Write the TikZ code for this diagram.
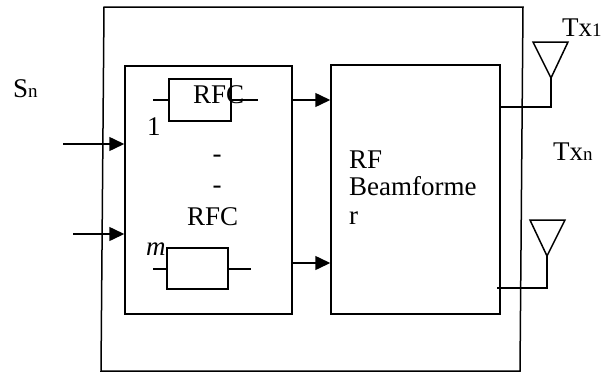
\documentclass[tikz,border=0pt]{standalone}
\usepackage{fontspec}
\setmainfont{Liberation Serif}
\usetikzlibrary{arrows.meta}
\begin{document}
\begin{tikzpicture}[x=1pt,y=-1pt,
  ln/.style={line width=1.5pt},
  arr/.style={ln,-{Triangle[length=15pt,width=14pt]}},
  blk/.style={draw,ln,rectangle,inner sep=0pt},
  txt/.style={inner sep=0pt,anchor=base west,font=\fontsize{27}{28}\selectfont},
  sub/.style={font=\fontsize{19}{20}\selectfont}
]
\useasboundingbox (0,0) rectangle (603,375);
% outer frame
\draw[ln] (104,7) -- (523,7) -- (520,371) -- (101,371) -- cycle;
% main blocks
\node[blk,minimum width=167pt,minimum height=248pt] (bank) at (208.5,190) {};
\node[blk,minimum width=169pt,minimum height=249pt] (bf) at (415.5,189.5) {};
% RFC boxes
\node[blk,minimum width=62pt,minimum height=42pt] (rfc1) at (200,100) {};
\node[blk,minimum width=61pt,minimum height=41pt] (rfcm) at (197.5,268.5) {};
\coordinate (l1) at (153,100); \coordinate (r1) at (258,100);
\coordinate (lm) at (153,269); \coordinate (rm) at (251,269);
\draw[ln] (l1) -- (l1 -| rfc1.west);
\draw[ln] (r1 -| rfc1.east) -- (r1);
\draw[ln] (lm) -- (lm -| rfcm.west);
\draw[ln] (rm -| rfcm.east) -- (rm);
% inputs
\coordinate (in1) at (63,144);
\coordinate (in2) at (73,234);
\draw[arr] (in1) -- (in1 -| bank.west);
\draw[arr] (in2) -- (in2 -| bank.west);
% bank to beamformer
\coordinate (m1) at (292,100);
\coordinate (m2) at (292,263);
\draw[arr] (m1 -| bank.east) -- (m1 -| bf.west);
\draw[arr] (m2 -| bank.east) -- (m2 -| bf.west);
% antennas
\coordinate (ant1) at (551,78);
\coordinate (ant2) at (547,256);
\coordinate (f1) at (551,107);
\coordinate (f2) at (547,288);
\draw[ln] (533,42) -- (568,42) -- (ant1) -- cycle;
\draw[ln] (530,220) -- (565,220) -- (ant2) -- cycle;
\draw[ln] (f1 -| bf.east) -- (f1) -- (ant1);
\draw[ln] (497,288) -- (f2) -- (ant2);
% texts
\node[txt] (sn) at (13,97) {S{\fontsize{19}{20}\selectfont n}};
\node[txt] (tx1) at (562,36) {Tx{\fontsize{19}{20}\selectfont 1}};
\node[txt] (txn) at (553,160) {Tx{\fontsize{19}{20}\selectfont n}};
\node[txt] (t1) at (193,103) {RFC};
\node[txt] (one) at (147,135) {1};
\node[txt,anchor=base] (d1) at (217,162) {-};
\node[txt,anchor=base] (d2) at (217,193) {-};
\node[txt] (t2) at (187,225) {RFC};
\node[txt] (mm) at (146,255) {\itshape m};
\node[txt] (b1) at (349,168) {RF};
\node[txt] (b2) at (349,195) {Beamforme};
\node[txt] (b3) at (349,224) {r};
\end{tikzpicture}
\end{document}
